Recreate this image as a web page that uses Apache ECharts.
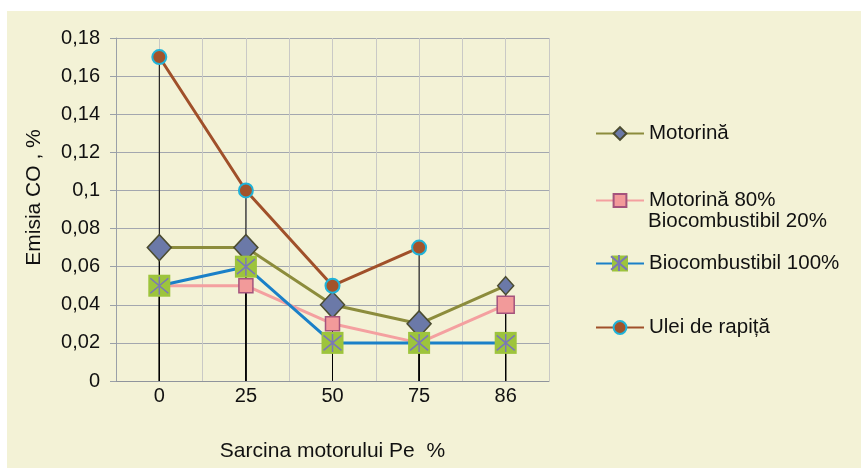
<!DOCTYPE html>
<html>
<head>
<meta charset="utf-8">
<script src="https://cdn.jsdelivr.net/npm/echarts@6/dist/echarts.min.js"></script>
<style>
html,body{margin:0;padding:0;background:#fff;}
#chart{width:861px;height:468px;}
</style>
</head>
<body>
<div id="chart"></div>
<script>
var categories = ['0', '25', '50', '75', '86'];
var motorina = [0.07, 0.07, 0.04, 0.03, 0.05];
var motorina80 = [0.05, 0.05, 0.03, 0.02, 0.04];
var bio100 = [0.05, 0.06, 0.02, 0.02, 0.02];
var uleiRapita = [0.17, 0.10, 0.05, 0.07, null];
var yTicks = { min: 0, max: 0.18, interval: 0.02 };

var names = ['Motorină', 'Motorină 80% Biocombustibil 20%', 'Biocombustibil 100%', 'Ulei de rapiță'];
var FONT = 'Liberation Sans, Arial, sans-serif';
var LFS = 20.5;

var chart = echarts.init(document.getElementById('chart'));

function dropBar(data) {
  return {
    type: 'bar', data: data, barWidth: 1, barGap: '-100%',
    itemStyle: { color: '#000' }, silent: true, z: 1,
    xAxisIndex: 0, yAxisIndex: 0
  };
}

function legendItem(name, top, h, extra) {
  var l = {
    data: [name], left: 595, top: top, orient: 'vertical', padding: 0,
    itemWidth: 48, itemHeight: h, itemGap: 5, selectedMode: false,
    textStyle: { fontSize: LFS, color: '#111', fontFamily: FONT }
  };
  if (extra) { for (var k in extra) l[k] = extra[k]; }
  return l;
}

var option = {
  animation: false,
  backgroundColor: '#fff',
  graphic: [
    { type: 'rect', shape: { x: 7, y: 11, width: 854, height: 457 }, style: { fill: '#f3f2d6' }, z: -10, silent: true },
    { type: 'text', left: 648, top: 211, style: { text: 'Biocombustibil 20%', fontSize: LFS, fill: '#111', fontFamily: FONT }, z: 10 }
  ],
  grid: { left: 116, top: 38, right: 312, bottom: 87, containLabel: false },
  legend: [
    legendItem(names[0], 131 - 8, 16),
    legendItem(names[1], 198 - 8, 16, { formatter: function () { return 'Motorină 80%'; } }),
    legendItem(names[2], 263 - 10, 20),
    legendItem('bioStar', 263 - 10, 20, { formatter: function () { return ''; }, lineStyle: { width: 0, opacity: 0 } }),
    legendItem(names[3], 325 - 8, 16)
  ],
  xAxis: [
    {
      type: 'category', data: categories, boundaryGap: true,
      axisLine: { lineStyle: { color: '#8f949c', width: 1 } },
      axisTick: { show: false },
      axisLabel: { fontSize: 20, color: '#111', fontFamily: FONT, margin: 5 },
      splitLine: { show: false },
      name: 'Sarcina motorului Pe  %', nameLocation: 'middle', nameGap: 60,
      nameTextStyle: { fontSize: 21, color: '#111', fontFamily: FONT }
    },
    {
      type: 'value', min: 0, max: 10, interval: 1, position: 'top',
      axisLine: { show: false }, axisTick: { show: false }, axisLabel: { show: false },
      splitLine: { show: true, lineStyle: { color: '#c9c9c6', width: 1 } }
    }
  ],
  yAxis: {
    type: 'value', min: yTicks.min, max: yTicks.max, interval: yTicks.interval,
    axisLine: { show: true, lineStyle: { color: '#9aa0a8' } },
    axisTick: { show: true, inside: false, length: 6, lineStyle: { color: '#9aa0a8' } },
    axisLabel: {
      fontSize: 20, color: '#111', fontFamily: FONT, margin: 16,
      formatter: function (v) { return String(parseFloat(v.toFixed(2))).replace('.', ','); }
    },
    splitLine: { show: true, lineStyle: { color: '#a3a7af', width: 1.2 } },
    name: 'Emisia CO , %', nameLocation: 'middle', nameGap: 71, nameRotate: 90,
    nameTextStyle: { fontSize: 21, color: '#111', fontFamily: FONT, padding: [0, 0, 0, 24] }
  },
  series: [
    dropBar(motorina), dropBar(motorina80), dropBar(bio100), dropBar(uleiRapita),
    {
      name: names[0], type: 'line', data: motorina, z: 3,
      lineStyle: { color: '#8c8c3c', width: 3 },
      symbol: 'diamond',
      symbolSize: function (v, p) { return p.dataIndex === 4 ? [16, 18] : [24, 26]; },
      itemStyle: { color: '#6b79a8', borderColor: '#4b4c30', borderWidth: 1.5 }
    },
    {
      name: names[1], type: 'line', data: motorina80, z: 4,
      lineStyle: { color: '#f4a0a0', width: 3 },
      symbol: 'rect',
      symbolSize: function (v, p) { return p.dataIndex === 4 ? 17 : 14; },
      itemStyle: { color: '#f29a9a', borderColor: '#a4537c', borderWidth: 1.5 }
    },
    {
      name: names[2], type: 'line', data: bio100, z: 5,
      lineStyle: { color: '#1a80c8', width: 3 },
      symbol: 'rect', symbolSize: 22,
      itemStyle: { color: '#9dc43c', borderWidth: 0 }
    },
    {
      name: 'bioStar', type: 'line', data: bio100, z: 6,
      lineStyle: { width: 0, opacity: 0 },
      symbol: 'path://M0,0L20,20M20,0L0,20M10,-2L10,22', symbolSize: 18,
      itemStyle: { color: 'rgba(0,0,0,0)', borderColor: '#7a77b8', borderWidth: 1.5 }
    },
    {
      name: names[3], type: 'line', data: uleiRapita, z: 7,
      lineStyle: { color: '#a0502a', width: 3 },
      symbol: 'circle', symbolSize: 14,
      itemStyle: { color: '#a3532b', borderColor: '#1fb3d9', borderWidth: 2 }
    }
  ]
};
chart.setOption(option);
</script>
</body>
</html>
